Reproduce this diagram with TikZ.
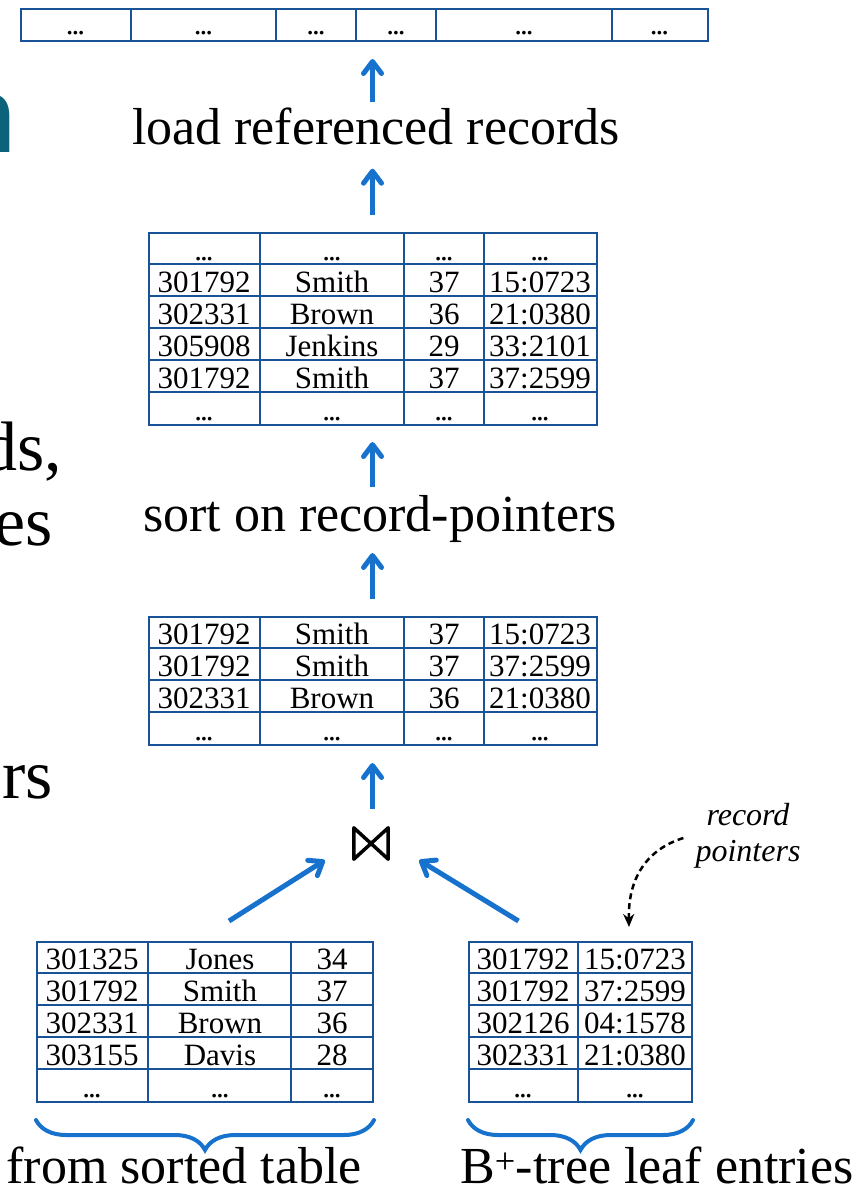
\documentclass[tikz,border=0pt]{standalone}
\usepackage{fontspec}
\setmainfont{Liberation Serif}
\setsansfont{Liberation Sans}
\usetikzlibrary{arrows.meta,decorations.pathreplacing,calc}
\definecolor{gridblue}{RGB}{25,82,150}
\definecolor{flowblue}{RGB}{22,114,204}
\definecolor{headteal}{RGB}{12,98,122}
\newcommand\elide{.\kern-2pt.\kern-2pt.}

\begin{document}
\begin{tikzpicture}[x=1pt,y=-1pt,
  tbl/.style={draw=gridblue,line width=2pt,inner sep=0pt,anchor=north west},
  rule/.style={draw=gridblue,line width=2pt},
  cell/.style={font=\fontsize{31}{31}\selectfont,anchor=base,inner sep=0pt},
  caption/.style={font=\fontsize{52}{52}\selectfont,anchor=base,inner sep=0pt},
  slidetext/.style={font=\fontsize{70}{70}\selectfont,anchor=base east,inner sep=0pt},
  flow/.style={draw=flowblue,line width=5pt,-{Straight Barb[length=12pt,width=18pt,round]}},
  curly/.style={draw=flowblue,line width=4pt,line cap=round,decorate,decoration={brace,amplitude=30pt}},
  pointerarrow/.style={draw=black,line width=2.5pt,dash pattern=on 6pt off 4pt,-{Stealth[length=13pt,width=11pt]}}]
\useasboundingbox (0,0) rectangle (857,1190);
\fill[white] (0,0) rectangle (857,1190);
\clip (0,0) rectangle (857,1190);

% fragments of the surrounding slide text
\node[font=\sffamily\bfseries\fontsize{108}{108}\selectfont,text=headteal,anchor=base east,inner sep=0pt] (head) at (16.5,153) {n};
\node[slidetext] (frag1) at (62,470) {ds,};
\node[slidetext] (frag2) at (53,545) {es};
\node[slidetext] (frag3) at (53,798) {rs};

\coordinate (spine) at (372.5,0);

% loaded data records
\node[tbl,minimum width=687pt,minimum height=32pt] (t0) at (20,8) {};
\foreach \x in {131,276,356,436,612} \draw[rule] (\x,8) -- (\x,40);
\foreach \x in {75.5,203.5,316,396,524,659.5} \node[cell] at (\x,35) {\elide};

\node[caption] (lbl1) at (376,145) {load referenced records};

% sorted join result
\node[tbl,minimum width=448pt,minimum height=192pt] (t2) at (148,232) {};
\foreach \x in {260,404,484} \draw[rule] (\x,232) -- (\x,424);
\foreach \y in {264,296,328,360,392} \draw[rule] (148,\y) -- (596,\y);
\foreach \a/\b/\c/\d [count=\r] in {\elide/\elide/\elide/\elide,
    301792/Smith/37/15:0723, 302331/Brown/36/21:0380,
    305908/Jenkins/29/33:2101, 301792/Smith/37/37:2599,
    \elide/\elide/\elide/\elide}{
  \node[cell] at (204,{228+32*\r}) {\a};
  \node[cell] at (332,{228+32*\r}) {\b};
  \node[cell] at (444,{228+32*\r}) {\c};
  \node[cell] at (540,{228+32*\r}) {\d};
}

\node[caption] (lbl2) at (380,531) {sort on record-pointers};

% join result
\node[tbl,minimum width=448pt,minimum height=128pt] (t3) at (148,616) {};
\foreach \x in {260,404,484} \draw[rule] (\x,616) -- (\x,744);
\foreach \y in {648,680,712} \draw[rule] (148,\y) -- (596,\y);
\foreach \a/\b/\c/\d [count=\r] in {301792/Smith/37/15:0723,
    301792/Smith/37/37:2599, 302331/Brown/36/21:0380,
    \elide/\elide/\elide/\elide}{
  \node[cell] at (204,{612+32*\r}) {\a};
  \node[cell] at (332,{612+32*\r}) {\b};
  \node[cell] at (444,{612+32*\r}) {\c};
  \node[cell] at (540,{612+32*\r}) {\d};
}

% join operator (bowtie outline)
\node[inner sep=0pt,minimum width=34pt,minimum height=31pt] (join) at (371,843.5) {};
\draw[line width=3.5pt,line join=round] (join.north west) -- (join.south west)
  -- (join.north east) -- (join.south east) -- cycle;

% sorted table
\node[tbl,minimum width=336pt,minimum height=160pt] (tl) at (36,941) {};
\foreach \x in {148,291} \draw[rule] (\x,941) -- (\x,1101);
\foreach \y in {973,1005,1037,1069} \draw[rule] (36,\y) -- (372,\y);
\foreach \a/\b/\c [count=\r] in {301325/Jones/34, 301792/Smith/37,
    302331/Brown/36, 303155/Davis/28, \elide/\elide/\elide}{
  \node[cell] at (92,{937+32*\r}) {\a};
  \node[cell] at (220,{937+32*\r}) {\b};
  \node[cell] at (332,{937+32*\r}) {\c};
}

% index leaf entries
\node[tbl,minimum width=223pt,minimum height=160pt] (tr) at (468,941) {};
\draw[rule] (578,941) -- (578,1101);
\foreach \y in {973,1005,1037,1069} \draw[rule] (468,\y) -- (691,\y);
\foreach \a/\b [count=\r] in {301792/15:0723, 301792/37:2599,
    302126/04:1578, 302331/21:0380, \elide/\elide}{
  \node[cell] at (523,{937+32*\r}) {\a};
  \node[cell] at (635,{937+32*\r}) {\b};
}

\node[font=\itshape\fontsize{32}{36}\selectfont,align=center,inner sep=0pt] (rp) at (748,836) {record\\pointers};

% data flow
\draw[flow] ($(lbl1.north -| spine)+(0,-6)$) -- ($(t0.south -| spine)+(0,17)$);
\draw[flow] ($(t2.north -| spine)+(0,-17)$) -- ($(lbl1.south -| spine)+(0,23)$);
\draw[flow] ($(lbl2.north -| spine)+(0,-8)$) -- ($(t2.south -| spine)+(0,16)$);
\draw[flow] ($(t3.north -| spine)+(0,-17)$) -- ($(t3.north -| spine)+(0,-63)$);
\draw[flow] ($(join.north -| spine)+(0,-19)$) -- ($(t3.south -| spine)+(0,17)$);
\draw[flow] ($(tl.north)+(24,-20)$) -- ($(join.south west)+(-29,1)$);
\draw[flow] ($(tr.north)+(-62,-20)$) -- ($(join.south east)+(31,1)$);

\draw[pointerarrow] ($(rp.west)+(-12,2)$) .. controls (645,850) and (628,880) .. ($(tr.north)+(48.5,-14)$);

% braces and captions
\draw[curly] ($(tl.south east)+(0,17)$) -- ($(tl.south west)+(0,17)$);
\draw[curly] ($(tr.south east)+(0,17)$) -- ($(tr.south west)+(0,17)$);
\node[caption] (cap1) at (184,1183) {from sorted table};
\node[caption] (cap2) at (657,1183) {B\textsuperscript{+}-tree leaf entries};
\end{tikzpicture}
\end{document}
